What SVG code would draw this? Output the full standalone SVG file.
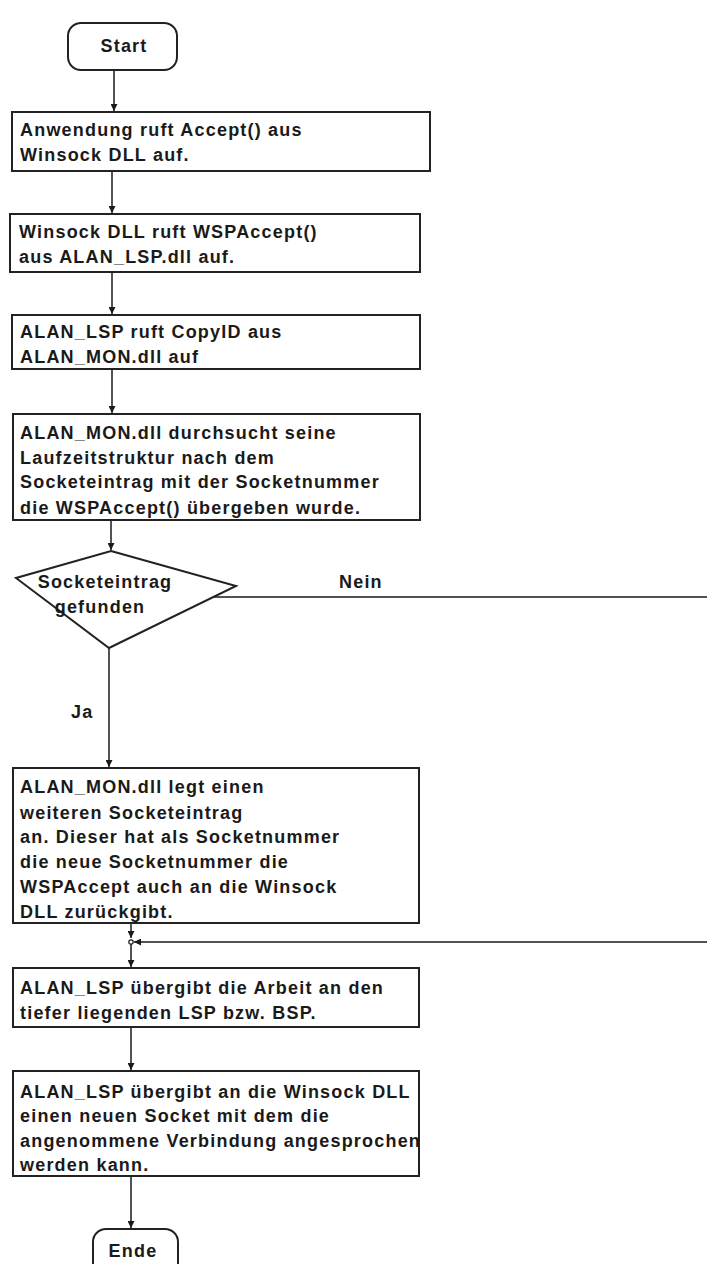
<svg xmlns="http://www.w3.org/2000/svg" width="707" height="1264" viewBox="0 0 707 1264">
<style>
.box{fill:#fff;stroke:#222;stroke-width:2}
.t{font-family:"Liberation Sans",Arial,sans-serif;font-weight:bold;font-size:18px;letter-spacing:1.2px;fill:#1a1a1a}
.c{text-anchor:middle}
.ln{fill:none;stroke:#1a1a1a;stroke-width:1.5}
</style>
<defs>
<marker id="ah" viewBox="0 0 10 10" refX="10" refY="5" markerWidth="7" markerHeight="7" markerUnits="userSpaceOnUse" orient="auto">
<path d="M0,0 L10,5 L0,10 z" fill="#1a1a1a"/>
</marker>
</defs>
<rect width="707" height="1264" fill="#fff"/>
<g id="connectors">
<path class="ln" d="M114,70 V111" marker-end="url(#ah)"/>
<path class="ln" d="M112,171 V213" marker-end="url(#ah)"/>
<path class="ln" d="M112,272 V314" marker-end="url(#ah)"/>
<path class="ln" d="M112,369 V413" marker-end="url(#ah)"/>
<path class="ln" d="M111,520 V550" marker-end="url(#ah)"/>
<path class="ln" d="M109,648 V767" marker-end="url(#ah)"/>
<path class="ln" d="M214,597 H710 V942 H134" marker-end="url(#ah)"/>
<path class="ln" d="M131,923 V938" marker-end="url(#ah)"/>
<circle cx="131" cy="942" r="2.2" fill="#fff" stroke="#1a1a1a" stroke-width="1.2"/>
<path class="ln" d="M131,944 V967" marker-end="url(#ah)"/>
<path class="ln" d="M131,1027 V1070" marker-end="url(#ah)"/>
<path class="ln" d="M131,1176 V1228" marker-end="url(#ah)"/>
<text class="t" x="71" y="718">Ja</text>
<text class="t" x="339" y="588">Nein</text>
</g>
<g id="start">
<rect class="box" x="68" y="23" width="109" height="47" rx="13"/>
<text class="t c" x="124" y="52">Start</text>
</g>
<g id="box1">
<rect class="box" x="12" y="112" width="418" height="59"/>
<text class="t" x="20" y="136">Anwendung ruft Accept() aus</text>
<text class="t" x="20" y="161">Winsock DLL auf.</text>
</g>
<g id="box2">
<rect class="box" x="10" y="214" width="410" height="58"/>
<text class="t" x="19" y="238">Winsock DLL ruft WSPAccept()</text>
<text class="t" x="19" y="263">aus ALAN_LSP.dll auf.</text>
</g>
<g id="box3">
<rect class="box" x="12" y="315" width="408" height="54"/>
<text class="t" x="20" y="338">ALAN_LSP ruft CopyID aus</text>
<text class="t" x="20" y="363">ALAN_MON.dll auf</text>
</g>
<g id="box4">
<rect class="box" x="13" y="414" width="407" height="106"/>
<text class="t" x="20" y="439">ALAN_MON.dll durchsucht seine</text>
<text class="t" x="20" y="464">Laufzeitstruktur nach dem</text>
<text class="t" x="20" y="488">Socketeintrag mit der Socketnummer</text>
<text class="t" x="20" y="514">die WSPAccept() übergeben wurde.</text>
</g>
<g id="decision">
<polygon class="box" points="111,551 236,586 109,648 16,578"/>
<text class="t c" x="105" y="588">Socketeintrag</text>
<text class="t c" x="100" y="613">gefunden</text>
</g>
<g id="box5">
<rect class="box" x="13" y="768" width="406" height="155"/>
<text class="t" x="20" y="793">ALAN_MON.dll legt einen</text>
<text class="t" x="20" y="819">weiteren Socketeintrag</text>
<text class="t" x="20" y="843">an. Dieser hat als Socketnummer</text>
<text class="t" x="20" y="868">die neue Socketnummer die</text>
<text class="t" x="20" y="893">WSPAccept auch an die Winsock</text>
<text class="t" x="20" y="918">DLL zurückgibt.</text>
</g>
<g id="box6">
<rect class="box" x="13" y="968" width="406" height="59"/>
<text class="t" x="20" y="994">ALAN_LSP übergibt die Arbeit an den</text>
<text class="t" x="20" y="1019">tiefer liegenden LSP bzw. BSP.</text>
</g>
<g id="box7">
<rect class="box" x="13" y="1071" width="406" height="105"/>
<text class="t" x="20" y="1098">ALAN_LSP übergibt an die Winsock DLL</text>
<text class="t" x="20" y="1122">einen neuen Socket mit dem die</text>
<text class="t" x="20" y="1147">angenommene Verbindung angesprochen</text>
<text class="t" x="20" y="1171">werden kann.</text>
</g>
<g id="ende">
<rect class="box" x="93" y="1229" width="85" height="50" rx="13"/>
<text class="t c" x="133" y="1257">Ende</text>
</g>
</svg>
